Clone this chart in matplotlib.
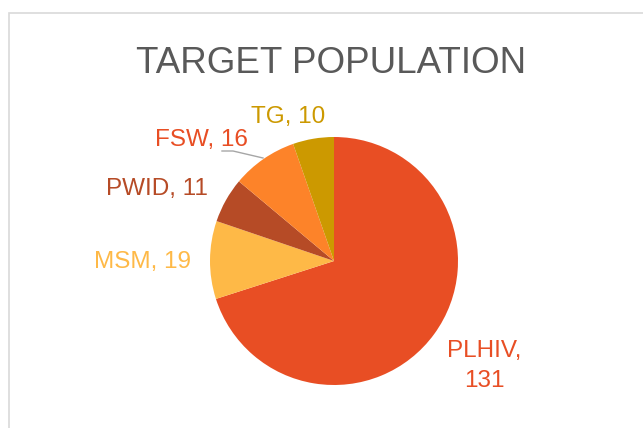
import matplotlib
matplotlib.use('Agg')
import matplotlib.pyplot as plt
from matplotlib.patches import Rectangle

# data
categories = ['PLHIV', 'MSM', 'PWID', 'FSW', 'TG']
values = [131, 19, 11, 16, 10]
slice_colors = ['#E84E24', '#FEB947', '#B64B26', '#FD8329', '#CC9900']
label_colors = ['#E84E24', '#FEB947', '#B64B26', '#E84E24', '#CC9900']
title = 'TARGET POPULATION'

W, H = 643, 428
CX, CY, R = 334, 261, 124

# label anchors in pixels (center x, baseline y)
label_pos = [(484, 357), (142, 268), (157, 195), (201, 146), (288, 123)]
label_font = ['Liberation Sans', 'DejaVu Sans']


def to_data(px, py):
    return (px - CX) / R, (CY - py) / R


fig = plt.figure(figsize=(W / 100, H / 100), dpi=100)
fig.patch.set_facecolor('white')

# chart border (only top and left edges visible in the crop)
fig.patches.append(Rectangle((8.5 / W, -0.1), 1.2, 1.1 - 12.5 / H,
                             transform=fig.transFigure, fill=False,
                             edgecolor='#D9D9D9', linewidth=1.2))

ax = fig.add_axes([(CX - R) / W, (H - CY - R) / H, 2 * R / W, 2 * R / H])
ax.pie(values, colors=slice_colors, startangle=90, counterclock=False,
       radius=1, wedgeprops=dict(linewidth=0))
ax.set_xlim(-1, 1)
ax.set_ylim(-1, 1)
ax.set_aspect('equal')
ax.axis('off')

for idx in range(len(categories)):
    px, py = label_pos[idx]
    x, y = to_data(px, py)
    if categories[idx] == 'PLHIV':
        ax.text(x, y, categories[idx] + ',', color=label_colors[idx], fontsize=17.5,
                family=label_font, ha='center', va='baseline', clip_on=False)
        x2, y2 = to_data(px, py + 30)
        ax.text(x2, y2, str(values[idx]), color=label_colors[idx], fontsize=17.5,
                family=label_font, ha='center', va='baseline', clip_on=False)
    else:
        ax.text(x, y, categories[idx] + ', ' + str(values[idx]), color=label_colors[idx],
                fontsize=17.5, family=label_font, ha='center', va='baseline', clip_on=False)

# leader line for FSW
lx, ly = zip(*[to_data(222, 151), to_data(233, 151), to_data(263, 158)])
ax.plot(lx, ly, color='#A6A6A6', linewidth=1, clip_on=False)

fig.text(331.5 / W, 1 - 73 / H, title, color='#595959', fontsize=26.5,
         family=['Liberation Sans Narrow', 'Liberation Sans'], ha='center', va='baseline')

plt.savefig('out.png', dpi=100)
plt.close()
